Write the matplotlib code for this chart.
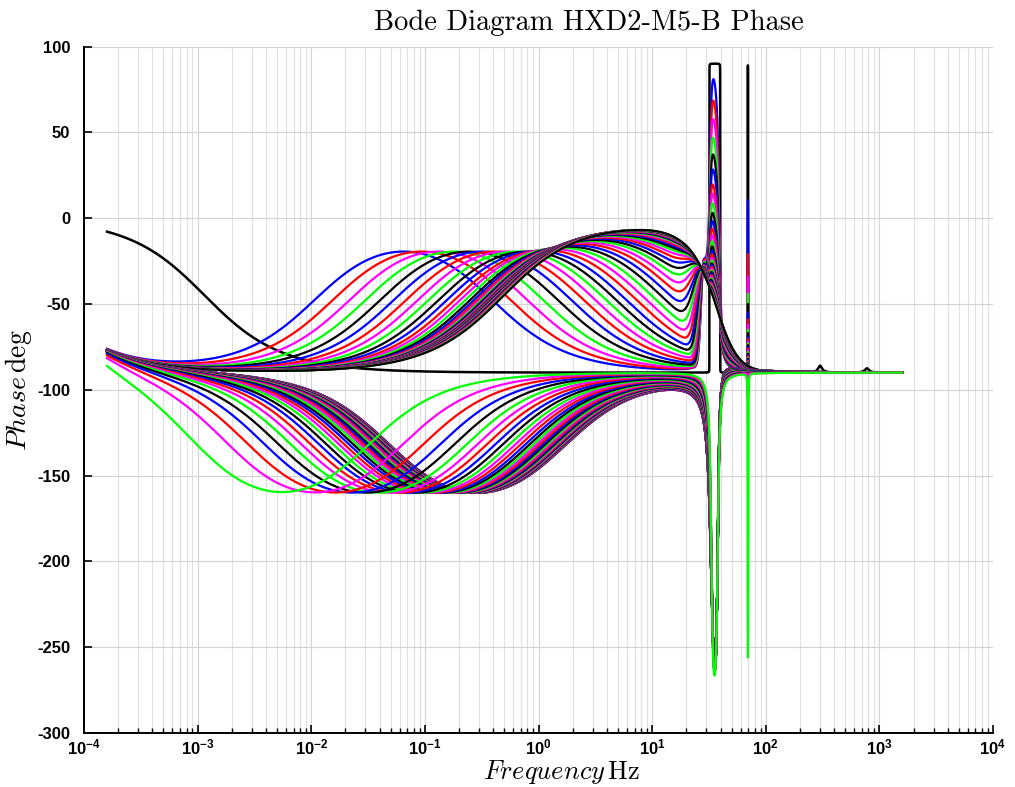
import numpy as np
import matplotlib
matplotlib.use("Agg")
import matplotlib.pyplot as plt
from matplotlib.ticker import FixedLocator, FixedFormatter, LogLocator, NullFormatter

plt.rcParams["axes.unicode_minus"] = False
plt.rcParams["mathtext.fontset"] = "custom"
plt.rcParams["mathtext.rm"] = "Liberation Sans:bold"
plt.rcParams["mathtext.bf"] = "Liberation Sans:bold"
plt.rcParams["mathtext.it"] = "Liberation Sans:bold:italic"

# sweep 1e-3 .. 1e4 rad/s, shown in Hz
freq = np.logspace(np.log10(1e-3 / (2 * np.pi)), np.log10(1e4 / (2 * np.pi)), 30000)

f_low = 3.7e-5  # low corner shared by both branches

# lead branch: centre frequency (Hz) and phase at the top of each lead
lead_centre = [0.065, 0.094, 0.132, 0.182, 0.245, 0.322, 0.414, 0.524, 0.652, 0.798,
               0.962, 1.15, 1.35, 1.57, 1.81, 2.06, 2.32, 2.59, 2.87, 3.15,
               3.43, 3.71, 3.99, 4.27, 4.55, 4.82, 5.09, 5.36, 5.62, 5.88,
               6.13, 6.38, 6.62, 6.86, 7.10, 7.34, 7.57, 7.80, 8.02, 8.24]
lead_peak = [-19.5, -19.5, -19.5, -19.5, -19.5, -19.5, -19.5, -19.5, -19.5, -19.5,
             -19.2, -18.7, -18, -17.3, -16.6, -15.8, -15, -14.2, -13.4, -12.7,
             -12, -11.4, -10.8, -10.3, -9.8, -9.4, -9.0, -8.7, -8.4, -8.1,
             -7.9, -7.7, -7.5, -7.35, -7.2, -7.1, -7.0, -6.95, -6.9, -6.85]
# phase at the top of the 35 Hz and 70 Hz resonances
lead_res1 = [78.7, 66, 55, 44, 34, 25, 16, 10.5, 4.7, -1,
             -6, -10.5, -14.5, -18, -21, -23.5, -25.5, -27.5, -29, -30.5,
             -31.5, -32.5, -33.5, -34.5, -35.5, -36.5, -37.5, -38.5, -39.5, -40.5,
             -41.5, -42.5, -43.5, -44.5, -45.5, -46.5, -47, -47.5, -48, -48.5]
lead_res2 = [10.5, -21, -34, -44, -50, -55, -59, -62, -65, -67,
             -69, -70.5, -72, -73, -74, -75, -76, -77, -78, -79,
             -80, -80.5, -81, -81.5, -82, -82.5, -83, -83.5, -84, -84.5,
             -85, -85.3, -85.6, -85.9, -86.2, -86.5, -86.7, -86.9, -87.1, -87.3]
lead_colors = ["#0000ff", "#ff0000", "#ff00ff", "#00ff00", "#000000"]

# lag branch: centre frequency (Hz), all lags bottom out near -160 deg
lag_centre = [0.0054, 0.0107, 0.0162, 0.0228, 0.0304, 0.039, 0.0485, 0.0587, 0.0696, 0.081,
              0.0927, 0.1045, 0.1163, 0.128, 0.1393, 0.1504, 0.161, 0.1714, 0.1813, 0.1905,
              0.1994, 0.2078, 0.2158, 0.2231, 0.2301, 0.2364, 0.2423, 0.2479, 0.2531, 0.2578,
              0.2621, 0.2665, 0.2704, 0.2738, 0.2772, 0.2800, 0.2830, 0.2853, 0.2877, 0.2901]
lag_min = -160.0
# phase at the bottom of the 35 Hz and 70 Hz resonances
lag_res1 = [-266.5, -265, -264.5, -264, -263.5, -263, -263, -262.5, -262.5, -262,
            -262, -262, -262, -262, -262, -262, -262, -262, -262, -262,
            -262, -262, -262, -262, -262, -262, -262, -262, -262, -262,
            -262, -262, -262, -262, -262, -262, -262, -262, -262, -262]
# damping of the 35 Hz pole pair on the lag branch
lag_zeta = [0.03, 0.032, 0.034, 0.036, 0.038, 0.04, 0.042, 0.044, 0.046, 0.048,
            0.05, 0.051, 0.052, 0.053, 0.054, 0.055, 0.056, 0.057, 0.058, 0.059,
            0.06, 0.06, 0.061, 0.061, 0.062, 0.062, 0.063, 0.063, 0.064, 0.064,
            0.064, 0.065, 0.065, 0.065, 0.065, 0.065, 0.065, 0.065, 0.065, 0.065]
lag_res2 = [-256, -106, -104, -102.5, -101.5, -100.5, -100, -99.5, -99, -98.5,
            -98, -97.5, -97, -96.5, -96, -96, -95.5, -95.5, -95, -95,
            -95, -94.5, -94.5, -94.5, -94, -94, -94, -94, -93.5, -93.5,
            -93.5, -93.5, -93, -93, -93, -93, -93, -93, -93, -93]
lag_colors = ["#00ff00", "#ff00ff", "#ff0000", "#0000ff", "#000000"]

# first-order reference response
ref_corner = 1.15e-3


def atand(x):
    return np.degrees(np.arctan(x))


def pair(f, fn, zeta):
    # phase of a second order zero pair
    r = f / fn
    return np.degrees(np.angle(1 - r ** 2 + 2j * zeta * r))


def bump(f, f1, f2, zeta1, zeta2=None):
    if zeta2 is None:
        zeta2 = zeta1
    s = pair(f, f1, zeta1) - pair(f, f2, zeta2)
    return s / s.max()


def at(f, phase, f0):
    return np.interp(np.log10(f0), np.log10(f), phase)


lf = np.log10(freq / 28.5)
tail = -90 + 75 / (1 + (freq / 37.0) ** 4.6)
b1_up = bump(freq, 32.3, 39.0, 0.03)
b2 = bump(freq, 69.2, 70.2, 0.002)

lead_base = []
for fc, pk in zip(lead_centre, lead_peak):
    k = np.tan(np.radians(45 + (pk + 90) / 2))
    lead_base.append(-90 + atand(f_low / freq) + atand(freq * k / fc) - atand(freq / (fc * k)))

lift = [at(freq, p, 20.0) + 90 for p in lead_base]
lead_phase = []
for i, base in enumerate(lead_base):
    c = lift[i] / lift[-1]
    post = -90 + (tail + 90) * c
    w = np.where(lf < 0, np.exp(-(lf / (0.03 + 0.22 * c)) ** 2), np.exp(-(lf / 0.1) ** 2))
    ph = (1 - w) * np.where(lf < 0, base, post) + w * tail
    ph = ph + max(lead_res1[i] - at(freq, ph, 35.5), 0) * b1_up
    ph = ph + max(lead_res2[i] - at(freq, ph, 69.7), 0) * b2
    lead_phase.append(ph)

k = np.tan(np.radians(45 + (-lag_min - 90) / 2))
lag_phase = []
for i, fc in enumerate(lag_centre):
    ph = -90 + atand(f_low / freq) - atand(freq * k / fc) + atand(freq / (fc * k))
    b1_dn = bump(freq, 33.2, 37.8, lag_zeta[i], 0.03)
    ph = ph - max(at(freq, ph, 35.5) - lag_res1[i], 0) * b1_dn
    ph = ph - max(at(freq, ph, 69.7) - lag_res2[i], 0) * b2
    lag_phase.append(ph)

ref_phase = (-atand(freq / ref_corner)
             + 180 * bump(freq, 31.9, 39.7, 1e-4)
             + 179 * bump(freq, 69.4, 69.9, 1e-4)
             + 4 * bump(freq, 300, 302, 0.05)
             + 2.5 * bump(freq, 775, 780, 0.05))

fig = plt.figure(figsize=(10.15, 7.87), dpi=100)
ax = fig.add_axes([0.0828, 0.0686, 0.8955, 0.8723])

ax.semilogx(freq, ref_phase, color="k", lw=1.8)
for i, ph in enumerate(lead_phase):
    ax.semilogx(freq, ph, color=lead_colors[i % 5], lw=1.6)
for i in range(len(lag_phase) - 1, -1, -1):
    ax.semilogx(freq, lag_phase[i], color=lag_colors[i % 5], lw=1.6)

ax.set_xlim(1e-4, 1e4)
ax.set_ylim(-300, 100)

decades = [1e-4, 1e-3, 1e-2, 1e-1, 1e0, 1e1, 1e2, 1e3, 1e4]
ax.xaxis.set_major_locator(FixedLocator(decades))
ax.xaxis.set_major_formatter(FixedFormatter(
    [r"$\mathbf{10^{%d}}$" % e for e in range(-4, 5)]))
ax.xaxis.set_minor_locator(LogLocator(base=10, subs=np.arange(2, 10), numticks=20))
ax.xaxis.set_minor_formatter(NullFormatter())
ax.set_yticks(np.arange(-300, 101, 50))

for lab in ax.get_yticklabels() + ax.get_xticklabels():
    lab.set_fontfamily("Liberation Sans")
    lab.set_fontweight("bold")
    lab.set_fontsize(12)

ax.tick_params(which="major", direction="in", length=6, width=1.2, top=False, right=False)
ax.tick_params(which="minor", direction="in", length=3.5, width=1.0, top=False, right=False)
ax.tick_params(axis="x", which="major", pad=3)
ax.tick_params(axis="y", which="major", pad=10)

ax.spines["top"].set_visible(False)
ax.spines["right"].set_visible(False)
ax.spines["left"].set_linewidth(1.4)
ax.spines["bottom"].set_linewidth(1.4)

ax.grid(True, which="major", color="#d2d2d2", lw=0.8)
ax.grid(True, which="minor", axis="x", color="#e0e0e0", lw=0.8)
ax.set_axisbelow(True)

xl = ax.set_xlabel(r"$Frequency\,\mathrm{Hz}$", fontsize=19)
xl.set_math_fontfamily("cm")
ax.xaxis.set_label_coords(0.525, -0.037)
yl = ax.set_ylabel(r"$Phase\,\mathrm{deg}$", fontsize=20)
yl.set_math_fontfamily("cm")
ax.yaxis.set_label_coords(-0.055, 0.5)

fig.text(589 / 1015, 1 - 23 / 787, "Bode Diagram HXD2-M5-B Phase",
         ha="center", va="center", family="cmr10", fontsize=20.5)

fig.savefig("out.png", dpi=100)
